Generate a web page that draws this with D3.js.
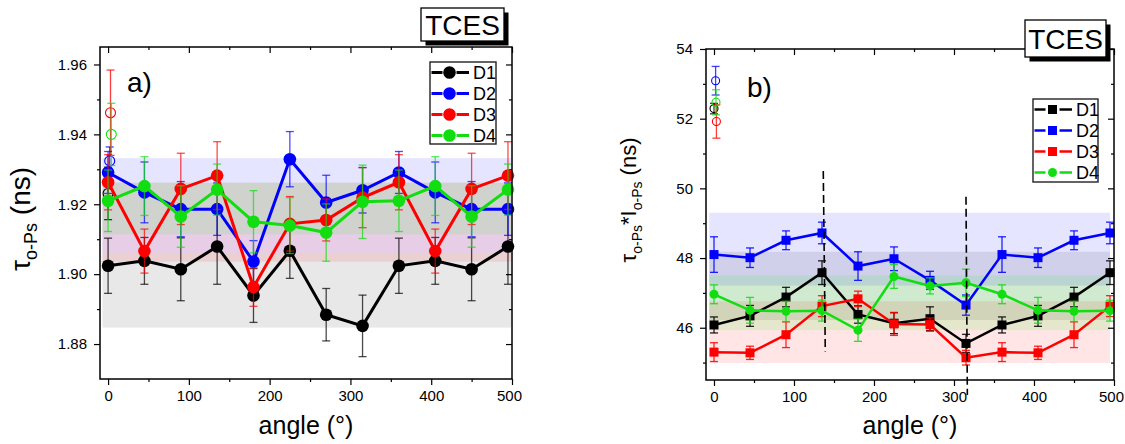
<!DOCTYPE html>
<html>
<head>
<meta charset="utf-8">
<script src="https://cdn.jsdelivr.net/npm/d3@7"></script>
<style>
body { margin: 0; background: #fff; }
svg { font-family: "Liberation Sans", Arial, sans-serif; }
</style>
</head>
<body>
<div id="chart"></div>
<script>
// angles (deg), same grid for every series
const angles = [0, 45, 90, 135, 180, 225, 270, 315, 360, 405, 450, 495];
const seriesNames = ["D1", "D2", "D3", "D4"];

// a) o-Ps lifetime (ns)
const tauD1 = [1.9024, 1.9038, 1.9014, 1.9079, 1.8939, 1.9067, 1.8884, 1.8852, 1.9024, 1.9038, 1.9014, 1.9079];
const tauD2 = [1.9291, 1.9234, 1.9186, 1.9186, 1.9036, 1.9329, 1.9205, 1.9240, 1.9291, 1.9234, 1.9186, 1.9186];
const tauD3 = [1.9263, 1.9066, 1.9244, 1.9282, 1.8963, 1.9144, 1.9155, 1.9219, 1.9263, 1.9066, 1.9244, 1.9282];
const tauD4 = [1.9210, 1.9252, 1.9165, 1.9242, 1.9150, 1.9139, 1.9119, 1.9207, 1.9210, 1.9252, 1.9165, 1.9242];
const tauErrD1 = [0.0079, 0.0067, 0.0090, 0.0108, 0.0077, 0.0079, 0.0075, 0.0088, 0.0079, 0.0067, 0.0090, 0.0108];
const tauErrD2 = [0.0060, 0.0087, 0.0079, 0.0075, 0.0060, 0.0079, 0.0078, 0.0065, 0.0060, 0.0087, 0.0079, 0.0075];
const tauErrD3 = [0.0079, 0.0063, 0.0102, 0.0097, 0.0055, 0.0078, 0.0060, 0.0086, 0.0079, 0.0063, 0.0102, 0.0097];
const tauErrD4 = [0.0088, 0.0084, 0.0088, 0.0073, 0.0089, 0.0080, 0.0082, 0.0105, 0.0088, 0.0084, 0.0088, 0.0073];
// open symbols (reference) D1..D4
const tauRefAngle = [0, 2, 3, 4];
const tauRef = [1.9231, 1.9324, 1.9462, 1.9400];
const tauRefErr = [0.0075, 0.0040, 0.0122, 0.0089];
// shaded ranges [low, high] D1..D4
const tauBands = [[1.8847, 1.9060], [1.9060, 1.9332], [1.9036, 1.9262], [1.9114, 1.9262]];

// b) tau*I (ns)
const prodD1 = [46.08, 46.34, 46.88, 47.58, 46.38, 46.13, 46.26, 45.55, 46.08, 46.34, 46.88, 47.58];
const prodD2 = [48.10, 48.01, 48.51, 48.72, 47.77, 47.98, 47.36, 46.65, 48.10, 48.01, 48.51, 48.72];
const prodD3 = [45.30, 45.28, 45.80, 46.62, 46.83, 46.11, 46.09, 45.14, 45.30, 45.28, 45.80, 46.62];
const prodD4 = [46.96, 46.50, 46.47, 46.49, 45.93, 47.47, 47.20, 47.29, 46.96, 46.50, 46.47, 46.49];
const prodErrD1 = [0.23, 0.30, 0.28, 0.34, 0.25, 0.30, 0.34, 0.26, 0.23, 0.30, 0.28, 0.34];
const prodErrD2 = [0.51, 0.28, 0.27, 0.31, 0.41, 0.34, 0.26, 0.29, 0.51, 0.28, 0.27, 0.31];
const prodErrD3 = [0.27, 0.19, 0.37, 0.30, 0.22, 0.33, 0.19, 0.21, 0.27, 0.19, 0.37, 0.30];
const prodErrD4 = [0.27, 0.37, 0.29, 0.30, 0.32, 0.34, 0.23, 0.39, 0.27, 0.37, 0.29, 0.30];
const prodRefAngle = [0, 2, 3, 2.5];
const prodRef = [52.29, 53.09, 51.92, 52.47];
const prodRefErr = [0.15, 0.41, 0.48, 0.36];
const prodBands = [[46.22, 48.18], [47.21, 49.30], [44.99, 46.76], [45.93, 47.50]];
// dashed markers: [angle top, angle bottom, value top, value bottom]
const cutLines = [[136.6, 139.1, 50.5, 45.32], [315, 316.7, 49.76, 44.07]];

// ticks
const angleTicks = [0, 100, 200, 300, 400, 500];
const angleMinor = [50, 150, 250, 350, 450];
const tauTicks = [1.88, 1.90, 1.92, 1.94, 1.96];
const tauMinor = [1.89, 1.91, 1.93, 1.95];
const prodTicks = [46, 48, 50, 52, 54];
const prodMinor = [45, 47, 49, 51, 53];

const FONT = '"Liberation Sans", Arial, sans-serif';
const colors = { D1: "#000000", D2: "#0000ff", D3: "#ff0000", D4: "#11dd11" };
const bandFill = { D1: "rgba(0,0,0,0.09)", D2: "rgba(0,0,255,0.1)", D3: "rgba(255,0,0,0.1)", D4: "rgba(0,255,0,0.1)" };

const svg = d3.select("#chart").append("svg")
    .attr("width", 1125)
    .attr("height", 444);

const panels = [
    {
        left: 100, right: 512, top: 47, bottom: 379,
        yDomain: [1.87, 1.965], yTicks: tauTicks, yMinor: tauMinor, fmt: d3.format(".2f"),
        values: [tauD1, tauD2, tauD3, tauD4], errors: [tauErrD1, tauErrD2, tauErrD3, tauErrD4],
        refAngle: tauRefAngle, ref: tauRef, refErr: tauRefErr, refR: 5,
        bands: tauBands, bandRange: [-7, 499],
        shapes: ["circle", "circle", "circle", "circle"], markSize: 6.3, lineW: 3, errOpacity: 0.7,
        legend: { x: 430, y: 62, w: 66, h: 82 },
        label: "a)", labelX: 127, labelY: 92,
        tces: { x: 421, y: 8, w: 83, h: 33 }
    },
    {
        left: 706, right: 1114, top: 49, bottom: 380,
        yDomain: [44.5, 54], yTicks: prodTicks, yMinor: prodMinor, fmt: d3.format("d"),
        values: [prodD1, prodD2, prodD3, prodD4], errors: [prodErrD1, prodErrD2, prodErrD3, prodErrD4],
        refAngle: prodRefAngle, ref: prodRef, refErr: prodRefErr, refR: 4,
        bands: prodBands, bandRange: [-6, 495],
        shapes: ["square", "square", "square", "circle"], markSize: 4.5, lineW: 2.5, errOpacity: 0.85,
        legend: { x: 1033, y: 99, w: 65, h: 83 },
        label: "b)", labelX: 747, labelY: 97,
        tces: { x: 1025, y: 20, w: 81, h: 37 },
        cuts: cutLines
    }
];

function drawMarker(g, shape, cx, cy, s, color) {
    if (shape === "square") {
        g.append("rect")
            .attr("x", cx - s).attr("y", cy - s)
            .attr("width", 2 * s).attr("height", 2 * s)
            .attr("fill", color);
    } else {
        g.append("circle")
            .attr("cx", cx).attr("cy", cy).attr("r", s)
            .attr("fill", color);
    }
}

function errorBar(g, x, yLo, yHi, color, opacity) {
    g.append("line").attr("x1", x).attr("x2", x).attr("y1", yLo).attr("y2", yHi)
        .attr("stroke", color).attr("stroke-width", 1.3).attr("opacity", opacity);
    [yLo, yHi].forEach(yy => {
        g.append("line").attr("x1", x - 4).attr("x2", x + 4).attr("y1", yy).attr("y2", yy)
            .attr("stroke", color).attr("stroke-width", 1.3).attr("opacity", opacity);
    });
}

function styleAxis(sel, size) {
    sel.select(".domain").remove();
    sel.selectAll("line").attr("stroke", "#000").attr("stroke-width", 1.2);
    sel.selectAll("text").attr("font-size", size).attr("font-family", FONT).attr("fill", "#000");
    sel.attr("font-family", FONT);
}

function drawPanel(p) {
    const x = d3.scaleLinear().domain([-10, 500]).range([p.left, p.right]);
    const y = d3.scaleLinear().domain(p.yDomain).range([p.bottom, p.top]);
    const g = svg.append("g");

    // shaded ranges
    p.bands.forEach((b, i) => {
        g.append("rect")
            .attr("x", x(p.bandRange[0]))
            .attr("width", x(p.bandRange[1]) - x(p.bandRange[0]))
            .attr("y", y(b[1]))
            .attr("height", y(b[0]) - y(b[1]))
            .attr("fill", bandFill[seriesNames[i]]);
    });

    // axes
    g.append("g").attr("transform", `translate(0,${p.bottom})`)
        .call(d3.axisBottom(x).tickValues(angleTicks).tickSize(6).tickPadding(5))
        .call(s => styleAxis(s, 15))
        .call(s => s.selectAll(".tick text").filter(d => d === 500).attr("dx", -3));
    g.append("g").attr("transform", `translate(0,${p.bottom})`)
        .call(d3.axisBottom(x).tickValues(angleMinor).tickSize(3).tickFormat(""))
        .call(s => styleAxis(s, 15));
    g.append("g").attr("transform", `translate(0,${p.top})`)
        .call(d3.axisTop(x).tickValues(angleTicks).tickSize(-6).tickFormat(""))
        .call(s => styleAxis(s, 15));
    g.append("g").attr("transform", `translate(0,${p.top})`)
        .call(d3.axisTop(x).tickValues(angleMinor).tickSize(-3).tickFormat(""))
        .call(s => styleAxis(s, 15));
    g.append("g").attr("transform", `translate(${p.left},0)`)
        .call(d3.axisLeft(y).tickValues(p.yTicks).tickSize(6).tickPadding(7).tickFormat(p.fmt))
        .call(s => styleAxis(s, 15));
    g.append("g").attr("transform", `translate(${p.left},0)`)
        .call(d3.axisLeft(y).tickValues(p.yMinor).tickSize(3).tickFormat(""))
        .call(s => styleAxis(s, 15));
    g.append("g").attr("transform", `translate(${p.right},0)`)
        .call(d3.axisRight(y).tickValues(p.yTicks).tickSize(-6).tickFormat(""))
        .call(s => styleAxis(s, 15));
    g.append("g").attr("transform", `translate(${p.right},0)`)
        .call(d3.axisRight(y).tickValues(p.yMinor).tickSize(-3).tickFormat(""))
        .call(s => styleAxis(s, 15));

    // open reference symbols
    seriesNames.forEach((n, i) => {
        const cx = x(p.refAngle[i]);
        errorBar(g, cx, y(p.ref[i] - p.refErr[i]), y(p.ref[i] + p.refErr[i]), colors[n], 0.75);
        g.append("circle").attr("cx", cx).attr("cy", y(p.ref[i])).attr("r", p.refR)
            .attr("fill", "none").attr("stroke", colors[n]).attr("stroke-width", 1.1);
    });

    // series
    const line = d3.line().x(d => x(d[0])).y(d => y(d[1]));
    seriesNames.forEach((n, i) => {
        const vals = p.values[i], errs = p.errors[i];
        angles.forEach((a, j) => {
            errorBar(g, x(a), y(vals[j] - errs[j]), y(vals[j] + errs[j]), colors[n], p.errOpacity);
        });
        g.append("path")
            .datum(angles.map((a, j) => [a, vals[j]]))
            .attr("d", line)
            .attr("fill", "none")
            .attr("stroke", colors[n])
            .attr("stroke-width", p.lineW);
        angles.forEach((a, j) => drawMarker(g, p.shapes[i], x(a), y(vals[j]), p.markSize, colors[n]));
    });

    // dashed guide lines
    (p.cuts || []).forEach(c => {
        g.append("line")
            .attr("x1", x(c[0])).attr("x2", x(c[1]))
            .attr("y1", y(c[2])).attr("y2", y(c[3]))
            .attr("stroke", "#000").attr("stroke-width", 1.6)
            .attr("stroke-dasharray", "8,4");
    });

    // frame
    g.append("rect")
        .attr("x", p.left).attr("y", p.top)
        .attr("width", p.right - p.left).attr("height", p.bottom - p.top)
        .attr("fill", "none").attr("stroke", "#000").attr("stroke-width", 1.5);

    // legend
    const L = p.legend;
    g.append("rect").attr("x", L.x).attr("y", L.y).attr("width", L.w).attr("height", L.h)
        .attr("fill", "#fff").attr("stroke", "#222").attr("stroke-width", 1.4);
    seriesNames.forEach((n, i) => {
        const cy = L.y + 10.5 + i * 21;
        const mx = L.x + 19.5;
        g.append("line").attr("x1", L.x + 1.5).attr("x2", mx - 7).attr("y1", cy).attr("y2", cy)
            .attr("stroke", colors[n]).attr("stroke-width", p.lineW);
        g.append("line").attr("x1", mx + 7).attr("x2", mx + 19.5).attr("y1", cy).attr("y2", cy)
            .attr("stroke", colors[n]).attr("stroke-width", p.lineW);
        drawMarker(g, p.shapes[i], mx, cy, p.markSize, colors[n]);
        g.append("text").attr("x", L.x + 43).attr("y", cy + 6.5)
            .attr("font-size", 18).attr("fill", "#000").text(n);
    });

    // panel label
    g.append("text").attr("x", p.labelX).attr("y", p.labelY)
        .attr("font-size", 28).attr("fill", "#000").text(p.label);

    // TCES box with shadow
    const T = p.tces;
    g.append("rect").attr("x", T.x + 4.5).attr("y", T.y + 4.5).attr("width", T.w).attr("height", T.h)
        .attr("fill", "#000");
    g.append("rect").attr("x", T.x).attr("y", T.y).attr("width", T.w).attr("height", T.h)
        .attr("fill", "#fff").attr("stroke", "#000").attr("stroke-width", 1.3);
    g.append("text").attr("x", T.x + T.w / 2).attr("y", T.y + T.h / 2 + 10)
        .attr("text-anchor", "middle").attr("font-size", 28).attr("fill", "#000").text("TCES");

    // x title
    g.append("text").attr("x", (p.left + p.right) / 2).attr("y", 434)
        .attr("text-anchor", "middle").attr("font-size", 25).attr("fill", "#000").text("angle (°)");
}

panels.forEach(drawPanel);

// y titles
const yt1 = svg.append("text")
    .attr("transform", "translate(30,219) rotate(-90)")
    .attr("text-anchor", "middle").attr("font-size", 28).attr("fill", "#000");
yt1.append("tspan").text("τ");
yt1.append("tspan").attr("font-size", 18).attr("dy", 7).text("o-Ps");
yt1.append("tspan").attr("dy", -7).text(" (ns)");

const yt2 = svg.append("text")
    .attr("transform", "translate(636,200) rotate(-90)")
    .attr("text-anchor", "middle").attr("font-size", 22).attr("fill", "#000");
yt2.append("tspan").text("τ");
yt2.append("tspan").attr("font-size", 14).attr("dy", 6).text("o-Ps");
yt2.append("tspan").attr("dy", -6).text("*");
yt2.append("tspan").text("I");
yt2.append("tspan").attr("font-size", 14).attr("dy", 6).text("o-Ps");
yt2.append("tspan").attr("dy", -6).text(" (ns)");
</script>
</body>
</html>
